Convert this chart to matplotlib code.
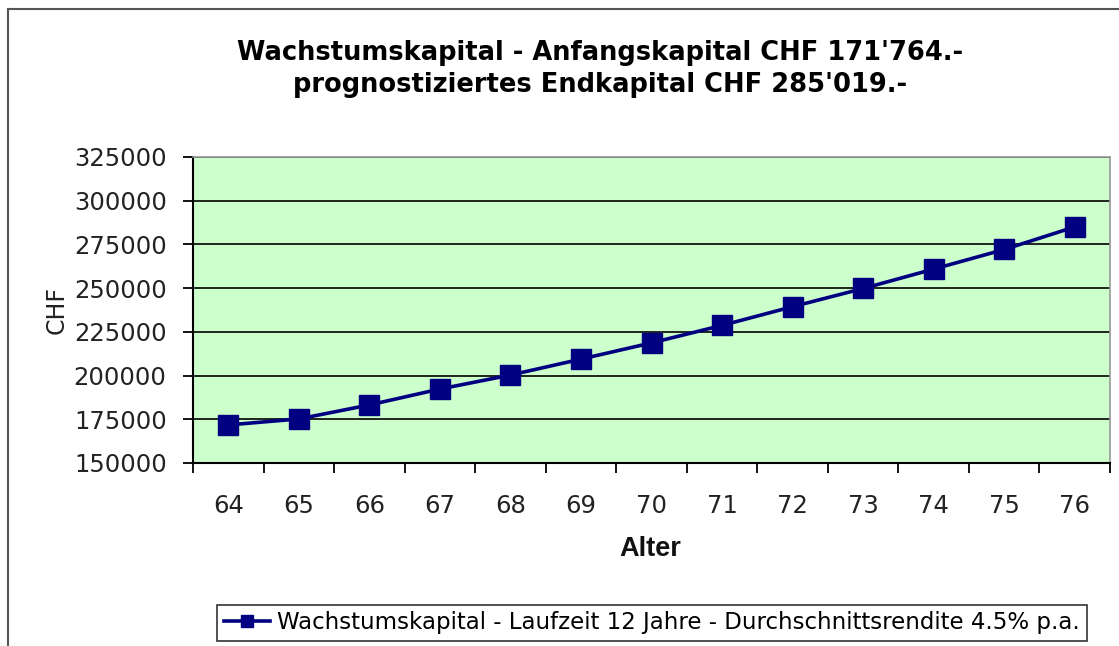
import numpy as np
import matplotlib
matplotlib.use('Agg')
import matplotlib.pyplot as plt
from matplotlib.ticker import FixedLocator, FuncFormatter

# Alter (Kategorien) und Kapital
alter = [64, 65, 66, 67, 68, 69, 70, 71, 72, 73, 74, 75, 76]
kapital = [171764, 175200, 183200, 192300, 200300, 209400, 218700,
           228700, 239400, 249800, 260900, 272100, 285019]
y_ticks = [150000, 175000, 200000, 225000, 250000, 275000, 300000, 325000]

titel = "Wachstumskapital - Anfangskapital CHF 171'764.-\nprognostiziertes Endkapital CHF 285'019.-"
legende = "Wachstumskapital - Laufzeit 12 Jahre - Durchschnittsrendite 4.5% p.a."

navy = '#000080'

fig = plt.figure(figsize=(11.19, 6.46), dpi=100)
fig.patch.set_facecolor('white')

# outer chart frame (only top and left visible, rest cropped)
fig.add_artist(plt.Line2D([8/1119, 8/1119], [0, 1 - 9/646], transform=fig.transFigure,
                          color='#555555', lw=1.5))
fig.add_artist(plt.Line2D([8/1119, 1], [1 - 9/646, 1 - 9/646], transform=fig.transFigure,
                          color='#555555', lw=1.5))

ax = fig.add_axes([193/1119, 1 - 463/646, (1110 - 193)/1119, (463 - 157)/646])
ax.set_facecolor('#CCFFCC')

x = np.arange(len(alter))
line, = ax.plot(x, kapital, color=navy, lw=2.6, marker='s', markersize=14,
                markerfacecolor=navy, markeredgecolor=navy, zorder=3)

ax.set_xlim(-0.5, len(alter) - 0.5)
ax.set_ylim(150000, 325000)
ax.set_yticks(y_ticks)
ax.yaxis.set_major_formatter(FuncFormatter(lambda v, p: '%d' % v))
ax.grid(axis='y', color='black', lw=1.2)
ax.set_axisbelow(True)

ax.set_xticks(x)
ax.set_xticklabels([str(a) for a in alter])
ax.xaxis.set_minor_locator(FixedLocator(np.arange(-0.5, len(alter), 1.0)))
ax.tick_params(axis='x', which='major', length=0, pad=22, labelsize=17.5, colors='#222222')
ax.tick_params(axis='x', which='minor', length=7, width=1.3, direction='out')
ax.tick_params(axis='y', which='major', length=7, width=1.3, direction='out', pad=12,
               labelsize=17.5, labelcolor='#222222')

for s in ['left', 'bottom']:
    ax.spines[s].set_color('black')
    ax.spines[s].set_linewidth(1.5)
for s in ['top', 'right']:
    ax.spines[s].set_color('#999999')
    ax.spines[s].set_linewidth(1.2)

fig.text(600/1119, 1 - 69/646, titel, ha='center', va='center', fontsize=18.5,
         fontweight='bold', linespacing=1.25, color='black')
fig.text(57/1119, 1 - 310/646, 'CHF', rotation=90, ha='center', va='center',
         fontsize=17, color='#222222')
fig.text(650/1119, 1 - 549/646, 'Alter', ha='center', va='center', fontsize=19.5,
         fontweight='bold', family='Liberation Sans', color='#111111')

leg = fig.legend([line], [legende], loc='center', bbox_to_anchor=(652/1119, 1 - 623/646),
                 frameon=True, fancybox=False, fontsize=16.5, handlelength=2.0,
                 borderpad=0.3, handletextpad=0.3, markerscale=0.6)
leg.get_frame().set_edgecolor('black')
leg.get_frame().set_linewidth(1.2)

fig.savefig('out.png', dpi=100)
